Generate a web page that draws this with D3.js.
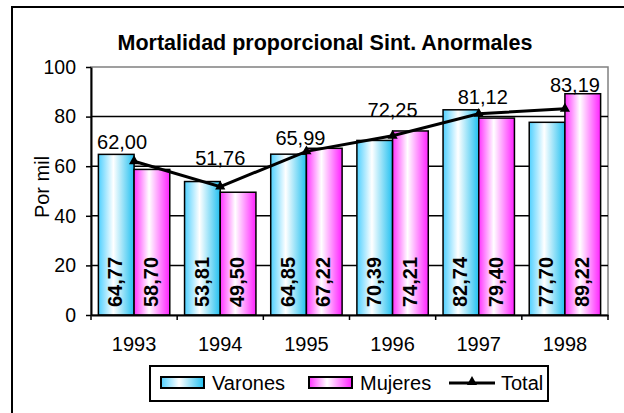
<html>
<head>
<script src="https://d3js.org/d3.v7.min.js"></script>
<style>
  body { margin: 0; background: #fff; }
  svg { display: block; font-family: "Liberation Sans", Arial, sans-serif; }
</style>
</head>
<body>
<svg width="624" height="413"></svg>
<script>
// data
var years = ["1993", "1994", "1995", "1996", "1997", "1998"];
var varones = [64.77, 53.81, 64.85, 70.39, 82.74, 77.70];
var mujeres = [58.70, 49.50, 67.22, 74.21, 79.40, 89.22];
var total = [62.00, 51.76, 65.99, 72.25, 81.12, 83.19];
var yTicks = [0, 20, 40, 60, 80, 100];
var seriesNames = ["Varones", "Mujeres", "Total"];

// label nudges (the original labels were dragged by hand)
var totalLabelNudge = [[-12, -12], [0, -22], [-6, -6], [0, -19], [4, -10], [10, -17]];

var fmt = function(v) { return v.toFixed(2).replace(".", ","); };

var svg = d3.select("svg");
var plotL = 91, plotR = 608, plotT = 67, plotB = 315;

var defs = svg.append("defs");
function grad(id, edgeL, edgeR) {
  var g = defs.append("linearGradient").attr("id", id)
    .attr("x1", "0%").attr("x2", "100%").attr("y1", "0%").attr("y2", "0%");
  g.append("stop").attr("offset", "0%").attr("stop-color", edgeL);
  g.append("stop").attr("offset", "42%").attr("stop-color", "#ffffff");
  g.append("stop").attr("offset", "100%").attr("stop-color", edgeR);
}
grad("gV", "#4fd0ff", "#22c0f0");
grad("gM", "#ff33ff", "#ff22ff");

// outer frame
svg.append("rect").attr("x", 12).attr("y", 7).attr("width", 700).attr("height", 500)
  .attr("fill", "none").attr("stroke", "#000").attr("stroke-width", 2);

// title
svg.append("text").attr("x", 325).attr("y", 50).attr("text-anchor", "middle")
  .style("font-weight", "bold").style("font-size", "21.5px")
  .text("Mortalidad proporcional Sint. Anormales");

var x0 = d3.scaleBand().domain(years).range([plotL, plotR]).paddingInner(0).paddingOuter(0);
var x1 = d3.scaleBand().domain(["V", "M"]).range([0, x0.bandwidth()]).paddingInner(0).paddingOuter(0.207);
var y = d3.scaleLinear().domain([0, 100]).range([plotB, plotT]);

// plot area border
svg.append("rect").attr("x", plotL).attr("y", y(100)).attr("width", plotR - plotL).attr("height", plotB - y(100))
  .attr("fill", "none").attr("stroke", "#808080").attr("stroke-width", 1.5);

// gridlines
svg.append("g").selectAll("line").data(yTicks.filter(function(d){ return d > 0 && d < 100; }))
  .enter().append("line")
  .attr("x1", plotL).attr("x2", plotR)
  .attr("y1", function(d){ return y(d); }).attr("y2", function(d){ return y(d); })
  .attr("stroke", "#000").attr("stroke-width", 1.5);

// bars
var bars = [];
years.forEach(function(yr, i) {
  bars.push({ yr: yr, k: "V", v: varones[i] });
  bars.push({ yr: yr, k: "M", v: mujeres[i] });
});
svg.append("g").selectAll("rect").data(bars).enter().append("rect")
  .attr("x", function(d){ return x0(d.yr) + x1(d.k); })
  .attr("y", function(d){ return y(d.v); })
  .attr("width", x1.bandwidth())
  .attr("height", function(d){ return plotB - y(d.v); })
  .attr("fill", function(d){ return d.k == "V" ? "url(#gV)" : "url(#gM)"; })
  .attr("stroke", "#000").attr("stroke-width", 1.5);

// bar labels
svg.append("g").selectAll("text").data(bars).enter().append("text")
  .attr("transform", function(d){
    var cx = x0(d.yr) + x1(d.k) + x1.bandwidth() / 2 - 1;
    return "translate(" + cx + "," + (plotB - 8) + ") rotate(-90)";
  })
  .attr("dy", "0.36em")
  .style("font-weight", "bold").style("font-size", "20px")
  .text(function(d){ return fmt(d.v); });

// y axis
var yAxis = svg.append("g").attr("transform", "translate(" + plotL + ",0)")
  .call(d3.axisLeft(y).tickValues(yTicks).tickSize(5).tickSizeOuter(0).tickPadding(10));
yAxis.select(".domain").attr("stroke-width", 2);
yAxis.selectAll("line").attr("stroke-width", 1.5);
yAxis.selectAll("text").style("font-size", "19.5px").style("font-family", "inherit");

// x axis
var xAxis = svg.append("g").attr("transform", "translate(0," + plotB + ")")
  .call(d3.axisBottom(x0).tickSize(0).tickSizeOuter(0).tickPadding(22));
xAxis.select(".domain").attr("stroke-width", 2);
xAxis.selectAll("text").style("font-size", "20px").style("font-family", "inherit");
var bounds = years.map(function(yr){ return x0(yr); }).concat([plotR]);
svg.append("g").selectAll("line").data(bounds).enter().append("line")
  .attr("x1", function(d){ return d; }).attr("x2", function(d){ return d; })
  .attr("y1", plotB).attr("y2", plotB + 5)
  .attr("stroke", "#000").attr("stroke-width", 1.5);

// y label
svg.append("text").attr("transform", "translate(42," + 187 + ") rotate(-90)")
  .attr("text-anchor", "middle").attr("dy", "0.36em").style("font-size", "20px")
  .text("Por mil");

// total line
var cx = function(i){ return x0(years[i]) + x0.bandwidth() / 2; };
svg.append("path").datum(total)
  .attr("fill", "none").attr("stroke", "#000").attr("stroke-width", 3)
  .attr("d", d3.line().x(function(d, i){ return cx(i); }).y(function(d){ return y(d); }));
svg.append("g").selectAll("path").data(total).enter().append("path")
  .attr("transform", function(d, i){ return "translate(" + cx(i) + "," + y(d) + ")"; })
  .attr("d", d3.symbol().type(d3.symbolTriangle).size(45))
  .attr("fill", "#000");
svg.append("g").selectAll("text").data(total).enter().append("text")
  .attr("x", function(d, i){ return cx(i) + totalLabelNudge[i][0]; })
  .attr("y", function(d, i){ return y(d) + totalLabelNudge[i][1]; })
  .attr("text-anchor", "middle").style("font-size", "20px")
  .text(function(d){ return fmt(d); });

// legend
var lg = svg.append("g");
lg.append("rect").attr("x", 150).attr("y", 366).attr("width", 398).attr("height", 35)
  .attr("fill", "#fff").attr("stroke", "#000").attr("stroke-width", 2);
var items = [
  { name: seriesNames[0], x: 161, fill: "url(#gV)", tx: 212 },
  { name: seriesNames[1], x: 309, fill: "url(#gM)", tx: 360 }
];
items.forEach(function(it) {
  lg.append("rect").attr("x", it.x).attr("y", 377).attr("width", 43).attr("height", 11)
    .attr("fill", it.fill).attr("stroke", "#000").attr("stroke-width", 2);
  lg.append("text").attr("x", it.tx).attr("y", 390).style("font-size", "20px").text(it.name);
});
lg.append("line").attr("x1", 449).attr("x2", 495).attr("y1", 383).attr("y2", 383)
  .attr("stroke", "#000").attr("stroke-width", 3);
lg.append("path").attr("transform", "translate(472,382)")
  .attr("d", d3.symbol().type(d3.symbolTriangle).size(45)).attr("fill", "#000");
lg.append("text").attr("x", 501).attr("y", 390).style("font-size", "20px").text(seriesNames[2]);
</script>
</body>
</html>
